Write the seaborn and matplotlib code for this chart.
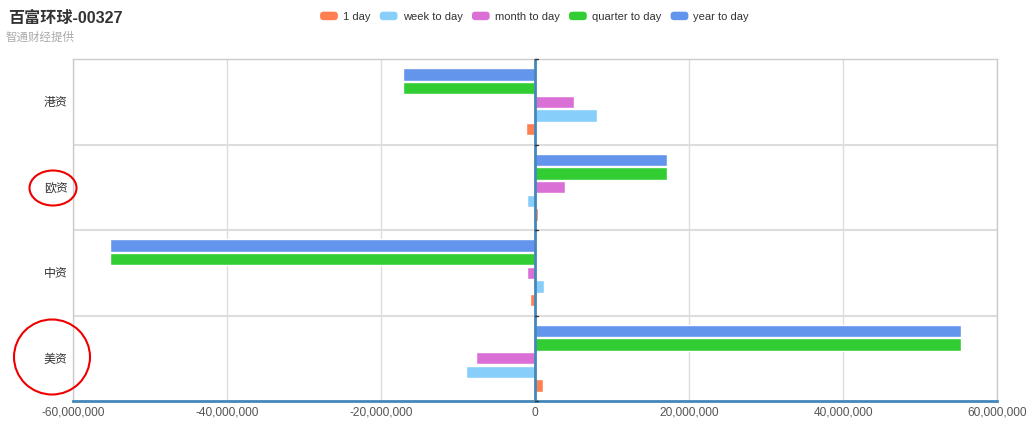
import matplotlib
matplotlib.use("Agg")
import matplotlib.pyplot as plt
import pandas as pd
import seaborn as sns
from matplotlib.legend_handler import HandlerPatch
from matplotlib.patches import Ellipse, FancyBboxPatch, Patch
from matplotlib.ticker import FuncFormatter

categories = ["港资", "欧资", "中资", "美资"]
series = ["1 day", "week to day", "month to day", "quarter to day", "year to day"]
colors = ["#ff7f50", "#87cefa", "#da70d6", "#32cd32", "#6495ed"]

one_day = [-1_200_000, 350_000, -600_000, 1_000_000]
week_to_day = [8_050_000, -1_000_000, 1_150_000, -8_900_000]
month_to_day = [5_000_000, 3_900_000, -1_050_000, -7_700_000]
quarter_to_day = [-17_100_000, 17_200_000, -55_200_000, 55_300_000]
year_to_day = [-17_100_000, 17_200_000, -55_200_000, 55_300_000]

values = [one_day, week_to_day, month_to_day, quarter_to_day, year_to_day]
df = pd.DataFrame(
    [(c, s, v[i]) for s, v in zip(series, values) for i, c in enumerate(categories)],
    columns=["category", "series", "value"],
)

sns.set_theme(style="white")
plt.rcParams["font.family"] = ["Liberation Sans", "Noto Sans CJK SC", "DejaVu Sans"]

W, H = 1026, 433
fig = plt.figure(figsize=(W / 100, H / 100), dpi=100)
ax = fig.add_axes([73 / W, 1 - 401 / H, (997 - 73) / W, (401 - 59) / H])

sns.barplot(
    data=df, y="category", x="value", hue="series", order=categories,
    hue_order=series[::-1], palette=dict(zip(series, colors)), orient="h",
    width=0.8, gap=0.1, saturation=1, errorbar=None, legend=False, ax=ax,
)

ax.set_xlim(-60_000_000, 60_000_000)
ax.set_ylim(3.5, -0.5)
ax.set_xticks(range(-60_000_000, 60_000_001, 20_000_000))
ax.xaxis.set_major_formatter(FuncFormatter(lambda v, _: f"{int(v):,}"))
ax.set_xlabel("")
ax.set_ylabel("")
ax.grid(axis="x", color="#dddddd", linewidth=1)
ax.set_axisbelow(True)
for b in [0.5, 1.5, 2.5]:
    ax.axhline(b, color="#dddddd", linewidth=1.5, zorder=0)
ax.axvline(0, color="#4488bb", linewidth=2, zorder=3)
for b in [-0.5, 0.5, 1.5, 2.5, 3.5]:
    ax.plot([0, 450_000], [b, b], color="#333333", linewidth=1, zorder=4, clip_on=False)

for side in ["left", "top", "right"]:
    ax.spines[side].set_color("#cccccc")
    ax.spines[side].set_linewidth(1)
ax.spines["bottom"].set_color("#4488bb")
ax.spines["bottom"].set_linewidth(2)
ax.tick_params(axis="x", length=0, pad=4, labelsize=8.6, labelcolor="#555555")
ax.tick_params(axis="y", length=0, pad=4, labelsize=8.6, labelcolor="#333333")

fig.text(8 / W, 1 - 18 / H, "百富环球-00327", fontsize=11.6, fontweight="bold",
         color="#333333", va="center", ha="left")
fig.text(6 / W, 1 - 38 / H, "智通财经提供", fontsize=8.3, color="#aaaaaa",
         va="center", ha="left")


def rounded(legend, orig_handle, xdescent, ydescent, width, height, fontsize):
    return FancyBboxPatch((-xdescent, -ydescent), width, height,
                          boxstyle="round,pad=0,rounding_size=2.5")


handles = [Patch(facecolor=c, edgecolor="none", label=s) for s, c in zip(series, colors)]
fig.legend(
    handles=handles, loc="upper center", bbox_to_anchor=(0.521, 1.0), ncol=5,
    frameon=False, fontsize=8.0, handlelength=1.6, handleheight=0.8,
    handletextpad=0.45, columnspacing=0.85, borderpad=0.55, labelcolor="#333333",
    handler_map={Patch: HandlerPatch(patch_func=rounded)},
)

for cx, cy, w, h in [(53, 188, 47, 35), (52, 357, 76, 75)]:
    fig.add_artist(Ellipse((cx / W, 1 - cy / H), w / W, h / H, transform=fig.transFigure,
                           fill=False, edgecolor="#ee0000", linewidth=1.5))

fig.savefig("out.png", dpi=100)
